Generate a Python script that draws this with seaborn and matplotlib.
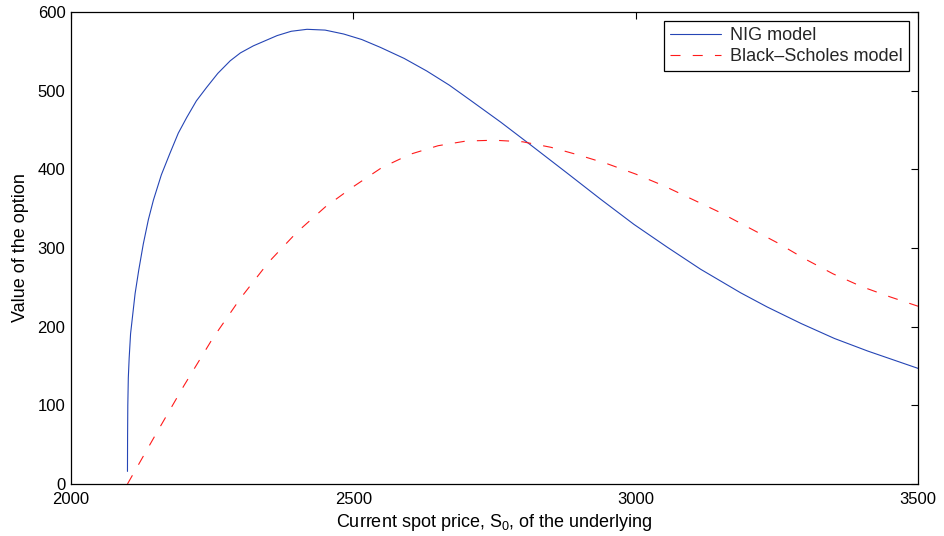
import matplotlib
matplotlib.use("Agg")
import matplotlib.pyplot as plt
import seaborn as sns
import pandas as pd

# Option value versus current spot price for two pricing models
nig_spot = [2100, 2100.2, 2100.6, 2101.5, 2103, 2105.5, 2113.5, 2120, 2128, 2137,
            2146, 2160, 2175, 2190, 2205, 2222, 2240, 2260, 2282, 2300,
            2323, 2365, 2390, 2418, 2450, 2483, 2515, 2548, 2590, 2630,
            2670, 2707, 2761, 2814, 2879, 2938, 2997, 3056, 3115, 3186,
            3233, 3293, 3352, 3411, 3500]
nig_value = [16, 60, 100, 135, 160, 191, 242, 272, 305, 336,
             361, 393, 420, 446, 466, 487, 504, 522, 538, 548,
             557, 570, 575.5, 578, 577, 572, 565, 555, 541, 525,
             507, 488, 460, 431, 395, 362, 330, 301, 273, 243,
             225, 204, 185, 169, 147]

bs_spot = [2100, 2150, 2200, 2250, 2300, 2350, 2400, 2450, 2500, 2550,
           2600, 2650, 2700, 2750, 2800, 2850, 2900, 2950, 3000, 3050,
           3100, 3150, 3200, 3250, 3300, 3350, 3400, 3450, 3500]
bs_value = [0, 63, 125, 184, 236, 282, 320, 352, 378, 402,
            419, 430, 436, 437, 435, 428, 418, 407, 394, 379,
            362, 345, 326, 307, 286, 267, 251, 238, 226]

model_names = ["NIG model", "Black\u2013Scholes model"]

x_ticks = [2000, 2500, 3000, 3500]
y_ticks = [0, 100, 200, 300, 400, 500, 600]

df = pd.concat([
    pd.DataFrame({"spot": nig_spot, "value": nig_value, "model": model_names[0]}),
    pd.DataFrame({"spot": bs_spot, "value": bs_value, "model": model_names[1]}),
], ignore_index=True)

sns.set_theme(style="white")
plt.rcParams["font.family"] = ["Liberation Sans", "DejaVu Sans"]
plt.rcParams["mathtext.fontset"] = "custom"
plt.rcParams["mathtext.rm"] = "Liberation Sans"
plt.rcParams["mathtext.it"] = "Liberation Sans:italic"
plt.rcParams["mathtext.default"] = "regular"

fig = plt.figure(figsize=(9.44, 5.36), dpi=100)
ax = fig.add_axes([71 / 944, 1 - 484 / 536, 847 / 944, 472 / 536])

lw = 0.8
sns.lineplot(
    data=df, x="spot", y="value", hue="model", style="model",
    hue_order=model_names, style_order=model_names,
    palette={model_names[0]: "#2545b5", model_names[1]: "#ff1a1a"},
    dashes={model_names[0]: "", model_names[1]: (9.0, 11.0)},
    linewidth=lw, estimator=None, legend=False, ax=ax,
)

ax.set_xlim(2000, 3500)
ax.set_ylim(0, 600)
ax.set_xticks(x_ticks)
ax.set_yticks(y_ticks)
ax.set_xticklabels([str(t) for t in x_ticks])
ax.set_yticklabels([str(t) for t in y_ticks])

ax.tick_params(direction="in", length=5, width=0.8, colors="black",
               labelsize=12, top=True, right=True)
ax.tick_params(axis="x", pad=5.5)
ax.tick_params(axis="y", pad=4)
for side in ax.spines.values():
    side.set_color("black")
    side.set_linewidth(0.9)

ax.set_xlabel("Current spot price, S$_0$, of the underlying", fontsize=13,
              color="black", labelpad=4)
ax.set_ylabel("Value of the option", fontsize=13, color="black", labelpad=6)

handles = ax.get_lines()[:2]
leg = ax.legend(handles, model_names, loc="upper right", fontsize=13,
                frameon=True, fancybox=False, edgecolor="black",
                borderaxespad=0.5, handlelength=2.8, handletextpad=0.5,
                borderpad=0.35, labelspacing=0.2)
leg.get_frame().set_linewidth(0.9)
leg.get_frame().set_alpha(1)

fig.savefig("out.png", dpi=100)
